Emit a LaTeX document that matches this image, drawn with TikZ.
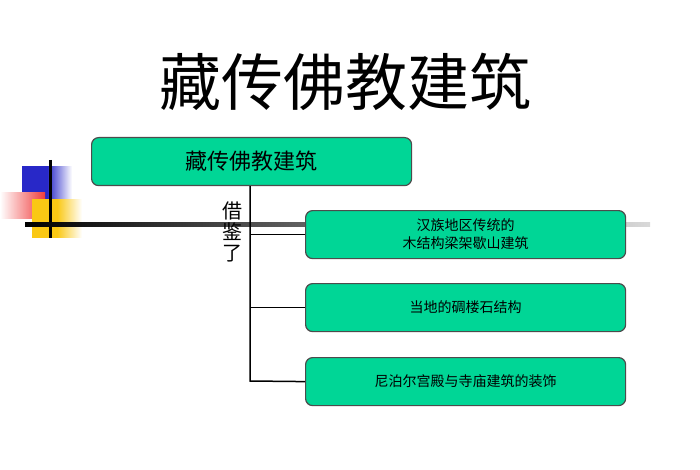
\documentclass[tikz,border=0pt]{standalone}
\usepackage{fontspec}
\newfontfamily\cjk{Noto Sans CJK SC}
\usetikzlibrary{shadings}
\begin{document}
\begin{tikzpicture}[x=1pt,y=-1pt,
  gbox/.style={draw=black!70,line width=1.2pt,fill={rgb,255:red,0;green,214;blue,150},rounded corners=7pt,minimum width=320pt,minimum height=48pt,font=\cjk\fontsize{14}{18}\selectfont,align=center,anchor=north west}]
\useasboundingbox (0,0) rectangle (700,470);
\fill[white] (0,0) rectangle (700,470);
% decoration
\shade[left color={rgb,255:red,40;green,40;blue,200},right color=white,middle color={rgb,255:red,40;green,40;blue,200}] (22,167) rectangle (72,200);
\shade[left color=white,right color={rgb,255:red,240;green,60;blue,60}] (0,193) rectangle (45,218);
\shade[left color={rgb,255:red,250;green,200;blue,20},right color=white,middle color={rgb,255:red,250;green,200;blue,20}] (32,200) rectangle (82,237);
\draw[line width=3pt] (50,160) -- (50,238);
\shade[left color=black,right color=black!15] (25,222) rectangle (650,226);
\node[font=\cjk\fontsize{62}{68}\selectfont] (title) at (345,82) {藏传佛教建筑};
\node[gbox,font=\cjk\fontsize{22}{24}\selectfont] (main) at (91,137) {藏传佛教建筑};
\node[gbox] (b1) at (305,210) {汉族地区传统的\\木结构梁架歇山建筑};
\node[gbox] (b2) at (305,283) {当地的碉楼石结构};
\node[gbox] (b3) at (305,357) {尼泊尔宫殿与寺庙建筑的装饰};
\coordinate (v) at (250,381);
\draw[line width=1.5pt] (main.south -| v) -- (v) -- (b3.west);
\draw[line width=1.5pt] (b1.west -| v) -- (b1.west);
\draw[line width=1.5pt] (b2.west -| v) -- (b2.west);
\node[font=\cjk\fontsize{20}{21}\selectfont,align=center] (jj) at (232,232) {借\\鉴\\了};
\end{tikzpicture}
\end{document}
